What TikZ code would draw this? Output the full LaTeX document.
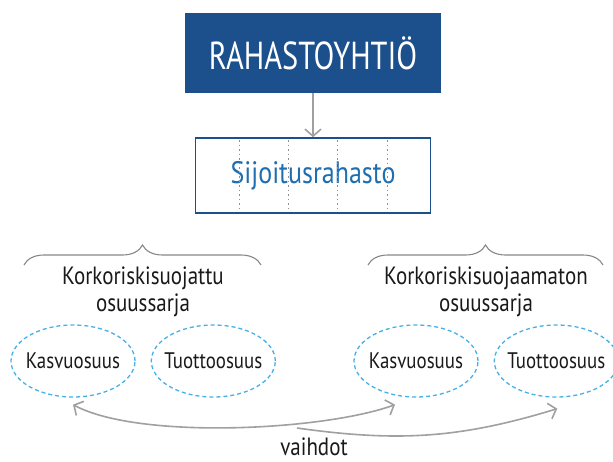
\documentclass[tikz,border=0pt]{standalone}
\usepackage{fontspec}
\setmainfont[FakeStretch=0.84]{PT Sans}
\newfontfamily\narrowfont[FakeStretch=0.78]{PT Sans}
\usepackage{tikz}
\usetikzlibrary{positioning, shapes.geometric, arrows.meta, decorations.pathreplacing}
\definecolor{fundblue}{RGB}{27,80,140}
\definecolor{seriesblue}{RGB}{31,110,176}
\definecolor{shareblue}{RGB}{70,175,230}
\definecolor{linkgray}{RGB}{160,160,160}
\definecolor{bracegray}{RGB}{135,135,135}
\tikzstyle{flow} = [line width=1.6pt, draw=linkgray, -{Straight Barb[length=7pt,width=16pt]}]
\tikzstyle{twoway} = [line width=1.6pt, draw=linkgray, {Straight Barb[length=7pt,width=16pt]}-{Straight Barb[length=7pt,width=16pt]}]
\tikzstyle{sarja} = [align=center, inner sep=0pt, text=black!90, font=\fontsize{25}{27}\selectfont]
\tikzstyle{osuus} = [inner sep=0pt, text=black!90, font=\fontsize{22.5}{24}\selectfont]
\tikzstyle{share} = [ellipse, draw=shareblue, line width=1.3pt, dash pattern=on 4pt off 3pt, minimum width=124pt, minimum height=72pt, inner sep=0pt]
\tikzstyle{groupbrace} = [decorate, decoration={brace, amplitude=20pt}, draw=bracegray, line width=1.1pt]

\begin{document}
\begin{tikzpicture}[x=1pt, y=-1pt]
\useasboundingbox (0,0) rectangle (613,461);
\node [rectangle, fill=fundblue, text=white, minimum width=256pt, minimum height=80pt, font=\narrowfont\fontsize{39}{40}\selectfont] (yhtio) at (313,53) {RAHASTOYHTIÖ};
\node [rectangle, draw=fundblue, line width=1.8pt, text=seriesblue, minimum width=235pt, minimum height=75pt, font=\fontsize{31}{32}\selectfont] (rahasto) [below=44pt of yhtio] {Sijoitusrahasto};
\draw [flow] (yhtio) -- (rahasto);
\foreach \dx in {-74,-24.7,24.7,74}
  \draw [linkgray!90!black, line width=0.8pt, dash pattern=on 1.5pt off 3pt] ([xshift=\dx pt, yshift=-3pt]rahasto.north) -- ([xshift=\dx pt, yshift=3pt]rahasto.south);

% osuussarjat
\node [sarja] (sarjaL) at (143,292) {Korkoriskisuojattu\\osuussarja};
\node [sarja] (sarjaR) at (486,292) {Korkoriskisuojaamaton\\osuussarja};
\draw [groupbrace] (24,265) -- (261,265);
\draw [groupbrace] (368,265) -- (603,265);

\node [share, label={[osuus]center:Kasvuosuus}] (kasvuL) at (73,361) {};
\node [share, label={[osuus]center:Tuottoosuus}] (tuottoL) [right=15pt of kasvuL] {};
\node [share, label={[osuus]center:Kasvuosuus}] (kasvuR) at (416,361) {};
\node [share, label={[osuus]center:Tuottoosuus}] (tuottoR) [right=15pt of kasvuR] {};

% vaihdot
\coordinate (inKL) at ([yshift=-7pt]kasvuL.south);
\coordinate (inKR) at ([xshift=-21pt, yshift=-7pt]kasvuR.south);
\coordinate (inTR) at ([xshift=1pt, yshift=-11pt]tuottoR.south);
\coordinate (split) at (297,428);
\draw [twoway] (inKL) to[out=-28, in=-160, looseness=0.6] (inKR);
\draw [flow] (split) to[out=-8, in=-163] (inTR);
\node [sarja, anchor=base] (vaihdot) at (314,455) {vaihdot};
\end{tikzpicture}
\end{document}
